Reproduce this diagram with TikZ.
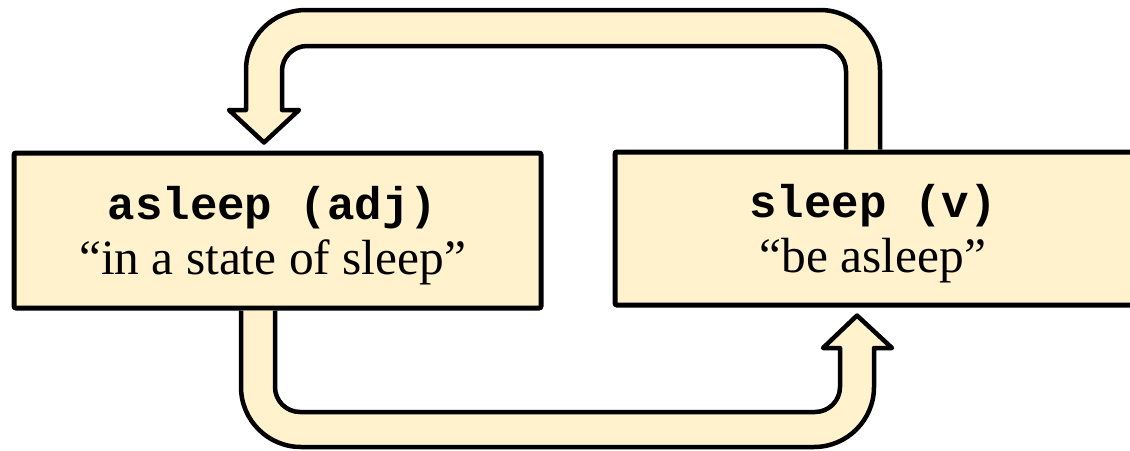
\documentclass[tikz,border=0pt]{standalone}
\usepackage{fontspec}
\setmainfont{Liberation Serif}
\setmonofont{Liberation Mono}
\usetikzlibrary{calc}
\definecolor{cream}{RGB}{255,242,204}
\begin{document}
\begin{tikzpicture}[x=0.5pt,y=-0.5pt,
  wordbox/.style={draw=black, line width=2.5pt, fill=cream, rounded corners=1pt,
    align=center, inner sep=0pt, font=\fontsize{24.7}{27.5}\selectfont},
  bigarrow/.style={draw=black, line width=2.25pt, fill=cream, line join=round}]
\useasboundingbox (0,0) rectangle (1130,450);
\clip (0,0) rectangle (1130,450);

\node[wordbox, minimum width=263.5pt, minimum height=77.5pt] (asleep) at (277.5,230.5)
  {\rule{0pt}{22pt}{\fontsize{22.9}{27.5}\selectfont\ttfamily\bfseries asleep (adj)}\hspace*{5pt}\\“in a state of sleep”\hspace*{5pt}};
\node[wordbox, minimum width=263pt, minimum height=76.5pt] (sleep) at (878,228.5)
  {\rule{0pt}{22pt}{\fontsize{22.9}{27.5}\selectfont\ttfamily\bfseries sleep (v)}\hspace*{5pt}\\“be asleep”\hspace*{5pt}};

% top arrow: sleep -> asleep
\draw[bigarrow] (880,0 |- sleep.north) -- (880,70)
  .. controls (880,36.9) and (853.1,10) .. (820,10) -- (306,10)
  .. controls (272.9,10) and (246,36.9) .. (246,70) -- (246,110) -- (229,110)
  -- ($(264,0 |- asleep.north)+(0,-8)$) -- (299,110) -- (282,110) -- (282,71)
  .. controls (282,57.2) and (293.2,46) .. (307,46) -- (821,46)
  .. controls (834.8,46) and (846,57.2) .. (846,71) -- (846,0 |- sleep.north);

% bottom arrow: asleep -> sleep
\draw[bigarrow] (241,0 |- asleep.south) -- (241,387)
  .. controls (241,420.1) and (267.9,447) .. (301,447) -- (814,447)
  .. controls (847.1,447) and (874,420.1) .. (874,387) -- (874,348) -- (892,348)
  -- ($(857,0 |- sleep.south)+(0,8)$) -- (823,348) -- (840,348) -- (840,387)
  .. controls (840,400.8) and (828.8,412) .. (815,412) -- (300,412)
  .. controls (286.2,412) and (275,400.8) .. (275,387) -- (275,0 |- asleep.south);
\end{tikzpicture}
\end{document}
